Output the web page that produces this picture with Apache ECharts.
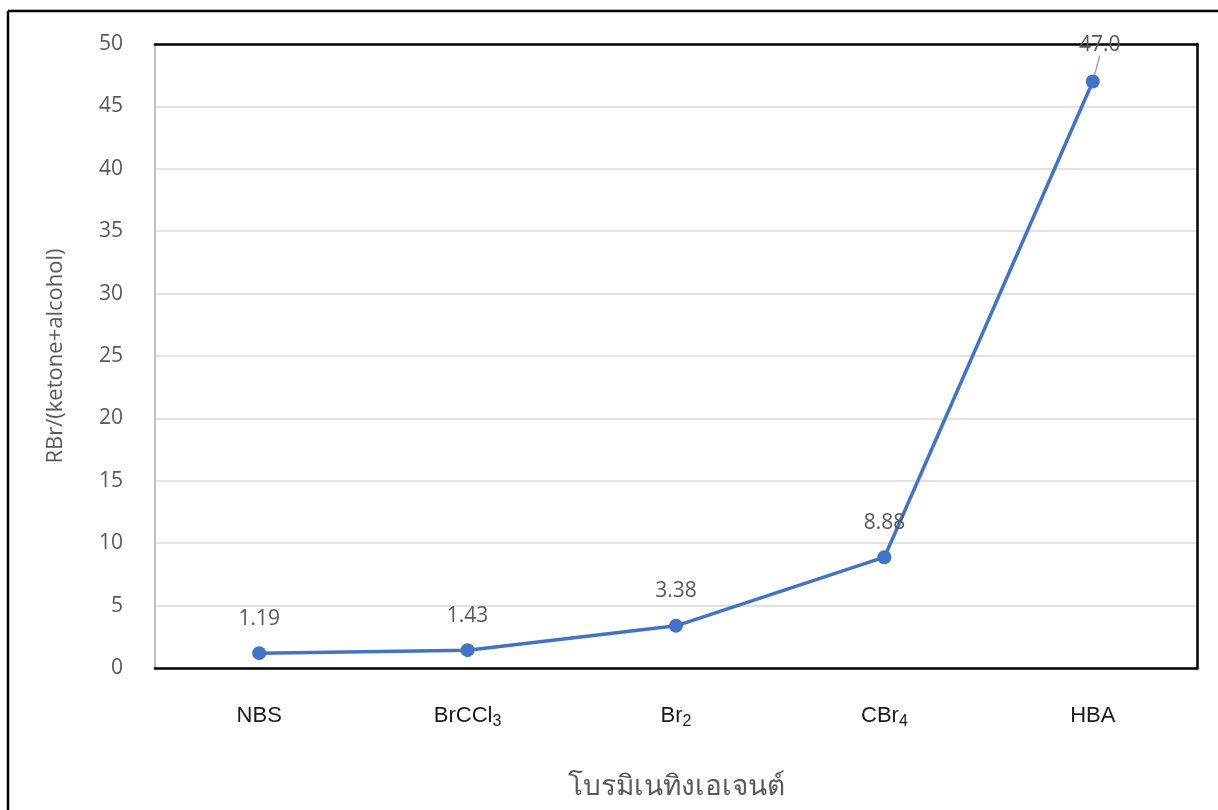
<!DOCTYPE html>
<html>
<head>
<meta charset="utf-8">
<script src="https://cdn.jsdelivr.net/npm/echarts@6/dist/echarts.min.js"></script>
<style>
  html, body { margin: 0; padding: 0; background: #ffffff; }
  #chart { width: 1218px; height: 810px; }
</style>
</head>
<body>
<div id="chart"></div>
<script>
// Brominating agents and the RBr / (ketone + alcohol) product ratio
const categories = ['NBS', 'BrCCl3', 'Br2', 'CBr4', 'HBA'];
const categoryLabels = ['{a|NBS}', '{a|BrCCl}{s|3}', '{a|Br}{s|2}', '{a|CBr}{s|4}', '{a|HBA}'];
const ratioValues = [1.19, 1.43, 3.38, 8.88, 47.0];
const valueLabels = ['1.19', '1.43', '3.38', '8.88', '47.0'];
const yTicks = [0, 5, 10, 15, 20, 25, 30, 35, 40, 45, 50];

const xTitle = 'โบรมิเนทิงเอเจนต์';
const yTitle = 'RBr/(ketone+alcohol)';

const chart = echarts.init(document.getElementById('chart'), null, { renderer: 'canvas' });

const textGray = '#595959';
const numFont = '"Open Sans", "Noto Sans", sans-serif';
const catFont = '"Liberation Sans", sans-serif';

// the last point's label sits a little aside, joined to its marker by a short leader
const seriesData = ratioValues.map((v, i) =>
  i === ratioValues.length - 1
    ? { value: v, labelLine: { show: true, lineStyle: { color: '#a6a6a6', width: 1.5 } } }
    : { value: v }
);

const option = {
  backgroundColor: '#ffffff',
  animation: false,
  grid: { left: 155, right: 21, top: 44, bottom: 142 },
  graphic: [
    // page frame: left and top edges
    { type: 'line', shape: { x1: 8, y1: 11, x2: 8, y2: 810 }, style: { stroke: '#000', lineWidth: 2.5 } },
    { type: 'line', shape: { x1: 8, y1: 11, x2: 1218, y2: 11 }, style: { stroke: '#000', lineWidth: 2.5 } }
  ],
  xAxis: [
    {
      type: 'category',
      data: categories,
      boundaryGap: true,
      axisLine: { show: true, onZero: false, lineStyle: { color: '#000', width: 2.5 } },
      axisTick: { show: false },
      axisLabel: {
        margin: 34,
        formatter: (v, i) => categoryLabels[i],
        rich: {
          a: { fontFamily: catFont, fontSize: 22, color: '#1a1a1a', lineHeight: 28, verticalAlign: 'middle' },
          s: { fontFamily: catFont, fontSize: 16, color: '#1a1a1a', lineHeight: 16, verticalAlign: 'bottom' }
        }
      },
      name: xTitle,
      nameLocation: 'middle',
      nameGap: 105,
      nameTextStyle: { fontFamily: catFont, fontSize: 28, color: textGray }
    },
    {
      type: 'category',
      data: categories,
      position: 'top',
      axisLine: { show: true, onZero: false, lineStyle: { color: '#000', width: 2.5 } },
      axisTick: { show: false },
      axisLabel: { show: false }
    }
  ],
  yAxis: [
    {
      type: 'value',
      min: 0,
      max: 50,
      interval: 5,
      axisLine: { show: true, onZero: false, lineStyle: { color: '#bfbfbf', width: 2 } },
      axisTick: { show: false },
      splitLine: { show: true, lineStyle: { color: '#d9d9d9', width: 1.5 } },
      axisLabel: {
        margin: 32,
        fontFamily: numFont,
        fontSize: 21,
        color: textGray,
        formatter: v => (yTicks.indexOf(v) >= 0 ? String(v) : '')
      },
      name: yTitle,
      nameLocation: 'middle',
      nameGap: 88,
      nameRotate: 90,
      nameTextStyle: { fontFamily: numFont, fontSize: 22, color: textGray }
    },
    {
      type: 'value',
      min: 0,
      max: 50,
      interval: 5,
      position: 'right',
      axisLine: { show: true, onZero: false, lineStyle: { color: '#000', width: 2.5 } },
      axisTick: { show: false },
      axisLabel: { show: false },
      splitLine: { show: false }
    }
  ],
  series: [
    {
      type: 'line',
      data: seriesData,
      symbol: 'circle',
      symbolSize: 14,
      lineStyle: { color: '#4472C4', width: 3.5 },
      itemStyle: { color: '#4472C4' },
      label: {
        show: true,
        position: 'top',
        distance: 17,
        fontFamily: numFont,
        fontSize: 21,
        color: textGray,
        formatter: p => valueLabels[p.dataIndex]
      },
      labelLine: { show: false },
      labelLayout: p => (p.dataIndex === ratioValues.length - 1 ? { dx: 7, dy: -2 } : {}),
      z: 5
    }
  ]
};

chart.setOption(option);
</script>
</body>
</html>
